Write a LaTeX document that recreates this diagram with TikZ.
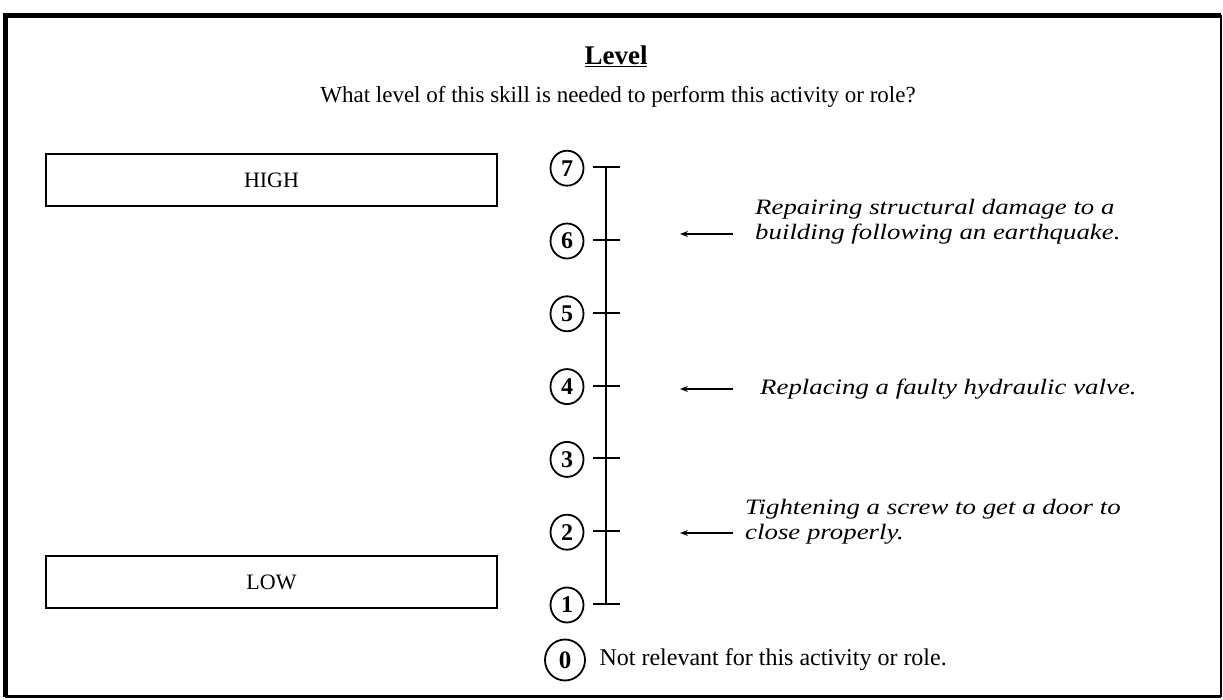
\documentclass[tikz,border=0pt]{standalone}
\usepackage{fontspec}
\setmainfont{Liberation Serif}
\newfontfamily\exfont[FakeStretch=1.22]{Liberation Serif}
\usetikzlibrary{arrows.meta,positioning,shapes.geometric}

\begin{document}
\begin{tikzpicture}[x=1pt,y=-1pt,
    levelnum/.style={ellipse, draw, line width=1.8pt, inner sep=0pt,
        minimum width=33pt, minimum height=35pt,
        font=\fontsize{24}{24}\selectfont\bfseries},
    anchorbox/.style={draw, line width=1.8pt, minimum width=451pt, minimum height=52pt,
        font=\fontsize{22}{24}\selectfont},
    example/.style={anchor=west, align=left, inner sep=0pt,
        font=\exfont\fontsize{22}{25}\selectfont\itshape},
    pointer/.style={-{Stealth[length=8pt,width=6pt]}, line width=1.4pt}]
\useasboundingbox (0,0) rectangle (1223,700);

% Frame
\draw[line width=5pt] (5,697) -- (5,15.5) -- (1221,15.5);
\draw[line width=2pt] (1221,15.5) -- (1221,697);
\draw[line width=3pt] (5,696) -- (1221,696);

% Heading
\node[font=\fontsize{27}{27}\selectfont\bfseries] (title) at (616,56) {\underline{Level}};
\node[font=\fontsize{23}{23}\selectfont] (question) at (618,97)
    {What level of this skill is needed to perform this activity or role?};

% Anchors
\node[anchorbox] (high) at (271.5,180) {HIGH};
\node[anchorbox] (low) at (271.5,582) {LOW};

% Scale
\foreach \n in {1,...,7} {
    \coordinate (t\n) at (606,{604-(\n-1)*72.8});
    \node[levelnum] (c\n) at (567,{605-(\n-1)*72.8}) {\n};
    \draw[line width=2pt] ([xshift=-13pt]t\n) -- ([xshift=14pt]t\n);
}
\draw[line width=2pt] (t7) -- (t1);
\node[levelnum, minimum width=40pt, minimum height=41pt, font=\fontsize{25}{25}\selectfont\bfseries] (c0) at (565,660) {0};
\node[anchor=west, font=\fontsize{24}{24}\selectfont] (none) at (596,660)
    {Not relevant for this activity or role.};

% Examples
\node[example] (ex6) at (755,222) {Repairing structural damage to a\\building following an earthquake.};
\node[example] (ex4) at (760,389) {Replacing a faulty hydraulic valve.};
\node[example] (ex2) at (745,522) {Tightening a screw to get a door to\\close properly.};
\foreach \n/\y in {6/234, 4/389, 2/533} {
    \coordinate (s\n) at (733,\y);
    \coordinate (e\n) at (680,\y);
    \draw[pointer] (s\n) -- (e\n);
}
\end{tikzpicture}
\end{document}
